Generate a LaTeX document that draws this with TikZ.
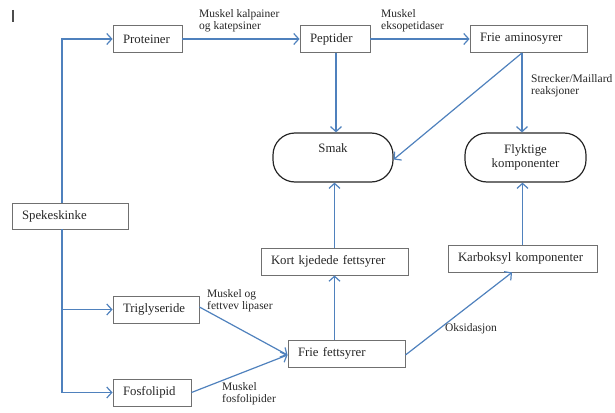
\documentclass[tikz,border=0pt]{standalone}
\usepackage{fontspec}
\setmainfont{Liberation Serif}
\usetikzlibrary{arrows.meta,calc}
\definecolor{lineblue}{HTML}{4F81BD}
\definecolor{boxgray}{HTML}{707070}
\definecolor{txt}{HTML}{262626}
\begin{document}
\begin{tikzpicture}[x=1pt,y=-1pt,
  box/.style={draw=boxgray,line width=0.9pt,rectangle,inner xsep=10pt,inner ysep=0pt,
    minimum height=27pt,align=left,font=\fontsize{12.8}{14}\selectfont,text=txt},
  pill/.style={draw=black!85,line width=1.2pt,rounded corners=22pt,minimum height=49pt,
    align=center,font=\fontsize{12.8}{14}\selectfont,text=txt},
  arr/.style={draw=lineblue,line width=1.2pt,-{Straight Barb[length=5pt,width=11pt,line width=1.2pt]}},
  lab/.style={inner sep=0pt,align=left,font=\fontsize{11.5}{12.5}\selectfont,text=txt,anchor=north west}]
\useasboundingbox (0,0) rectangle (615,412);
\draw[line width=1.2pt,black!70] (13,10) -- (13,22);
% boxes
\node[box,minimum width=69pt,text width=49pt] (prot) at (147.5,39) {Proteiner};
\node[box,minimum width=70pt,text width=50pt] (pept) at (335,39) {Peptider};
\node[box,minimum width=117pt,text width=97pt] (fam) at (528.5,39) {Frie aminosyrer};
\node[pill,minimum width=120pt] (smak) at (333,157.5) {};
\node[inner sep=0pt,font=\fontsize{12.8}{14}\selectfont,text=txt] (smaktxt) at (333,148) {Smak};
\node[pill,minimum width=121pt] (flyk) at (525.5,157.5) {Flyktige\\komponenter};
\node[box,minimum width=116pt,text width=96pt,minimum height=26pt] (spek) at (70,216) {Spekeskinke};
\node[box,minimum width=147pt,text width=127pt] (kort) at (334.5,261.5) {Kort kjedede fettsyrer};
\node[box,minimum width=149pt,text width=129pt] (karb) at (522.5,258.5) {Karboksyl komponenter};
\node[box,minimum width=86pt,text width=66pt] (trig) at (156,309.5) {Triglyseride};
\node[box,minimum width=78pt,text width=58pt] (fosf) at (152,392.5) {Fosfolipid};
\node[box,minimum width=117pt,text width=97pt] (ffs) at (346.5,353.5) {Frie fettsyrer};
\coordinate (tk) at (62,0);
% connectors
\draw[arr] (spek.north -| tk) |- (prot.west);
\draw[arr] (spek.south -| tk) |- (trig.west);
\draw[arr] (spek.south -| tk) |- (fosf.west);
\draw[arr] (prot.east) -- (pept.west);
\draw[arr] (pept.east) -- (fam.west);
\draw[arr] ([xshift=1pt]pept.south) -- ([xshift=1pt]pept.south |- smak.north);
\draw[arr] ([xshift=-6.5pt]fam.south) -- ([yshift=-2pt]smak.east);
\draw[arr] ([xshift=-6.5pt]fam.south) -- ([xshift=-6.5pt]fam.south |- flyk.north);
\draw[arr] (kort.south |- ffs.north) -- (kort.south);
\draw[arr] (kort.north) -- (kort.north |- smak.south);
\draw[arr] ([yshift=2.5pt]trig.east) -- ([yshift=-1.5pt]ffs.west);
\draw[arr] (fosf.east) -- ([yshift=-1.5pt]ffs.west);
\draw[arr] ([yshift=-1.5pt]ffs.east) -- ([xshift=-10.5pt]karb.south);
\draw[arr] (karb.north) -- (karb.north |- flyk.south);
% labels
\node[lab] (l1) at (199,9) {Muskel kalpainer\\og katepsiner};
\node[lab] (l2) at (381,9) {Muskel\\eksopetidaser};
\node[lab] (l3) at (531,74) {Strecker/Maillard\\reaksjoner};
\node[lab] (l4) at (207,289) {Muskel og\\fettvev lipaser};
\node[lab] (l5) at (222,382) {Muskel\\fosfolipider};
\node[inner sep=0pt,font=\fontsize{11.5}{12.5}\selectfont,text=txt] (l6) at (471,329) {Oksidasjon};
\end{tikzpicture}
\end{document}
